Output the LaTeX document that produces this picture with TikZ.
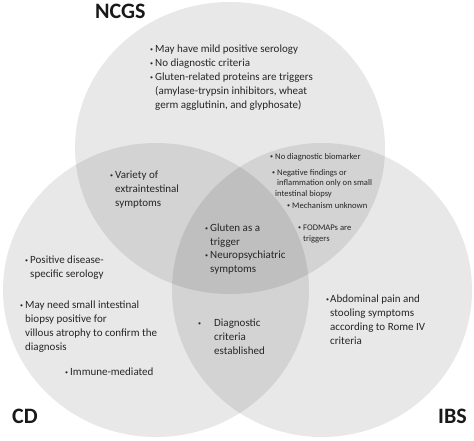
\documentclass[tikz,border=0pt]{standalone}
\usepackage{fontspec}
\setmainfont{Carlito}
\newcommand{\bu}{\makebox[5pt][l]{\raisebox{0.8pt}{\fontsize{6}{6}\selectfont •}}}
\newcommand{\ind}{\hspace*{5pt}}
\begin{document}
\begin{tikzpicture}[x=1pt,y=-1pt,
  circ/.style={fill=black,fill opacity=0.09,draw=none},
  title/.style={font=\fontsize{22}{22}\selectfont\bfseries,anchor=base west,inner sep=0,text=black!90},
  txt/.style={font=\fontsize{11}{14}\selectfont,anchor=north west,inner sep=0,align=left,text=black!85},
  sml/.style={font=\fontsize{8.6}{10.8}\selectfont,anchor=north west,inner sep=0,align=left,text=black!85}]
\useasboundingbox (0,0) rectangle (474,441);
\fill[white] (0,0) rectangle (474,441);
% circles
\fill[circ] (230,148) ellipse [x radius=155, y radius=146];
\fill[circ] (156,290) ellipse [x radius=153, y radius=147];
\fill[circ] (322,290) ellipse [x radius=150, y radius=147];
% titles
\node[title] (tncgs) at (95,19) {NCGS};
\node[title] (tcd) at (12,423) {CD};
\node[title] (tibs) at (438,423) {IBS};
% NCGS only
\node[txt] (ncgs) at (150,52.5-9.8) {\strut\bu May have mild positive serology\\\bu No diagnostic criteria\\\bu Gluten-related proteins are triggers\\\ind (amylase-trypsin inhibitors, wheat\\\ind germ agglutinin, and glyphosate)};
% NCGS & CD
\node[txt] (var) at (110,178.5-9.8) {\strut\bu Variety of\\\ind extraintestinal\\\ind symptoms};
% CD only
\node[txt] (pos) at (25,263.5-9.8) {\strut\bu Positive disease-\\\ind specific serology};
\node[txt] (may) at (20,308.5-9.8) {\strut\bu May need small intestinal\\\ind biopsy positive for\\\ind villous atrophy to confirm the\\\ind diagnosis};
\node[txt] (imm) at (65,375.5-9.8) {\strut\bu Immune-mediated};
% center
\node[txt,font=\fontsize{11}{13.5}\selectfont] (glu) at (205,231.5-9.45) {\strut\bu Gluten as a\\\ind trigger\\\bu Neuropsychiatric\\\ind symptoms};
% CD & IBS
\node[txt] (dia) at (198,326.5-9.8) {\strut\makebox[16pt][l]{\raisebox{0.8pt}{\fontsize{6}{6}\selectfont •}}Diagnostic\\\hspace*{16pt}criteria\\\hspace*{16pt}established};
% IBS only
\node[txt] (abd) at (326,302.5-9.8) {\strut\makebox[4pt][l]{\raisebox{0.8pt}{\fontsize{6}{6}\selectfont •}}Abdominal pain and\\\hspace*{4pt}stooling symptoms\\\hspace*{4pt}according to Rome IV\\\hspace*{4pt}criteria};
% NCGS & IBS
\node[sml] (nob) at (270,159-7.56) {\strut\bu No diagnostic biomarker};
\node[sml] (neg) at (272,175-7.56) {\strut\bu Negative findings or\\\ind inflammation only on small\\\hspace*{3pt}intestinal biopsy};
\node[sml] (mech) at (287,208-7.56) {\strut\bu Mechanism unknown};
\node[sml] (fod) at (298,230-7.56) {\strut\bu FODMAPs are\\\ind triggers};
\end{tikzpicture}
\end{document}
